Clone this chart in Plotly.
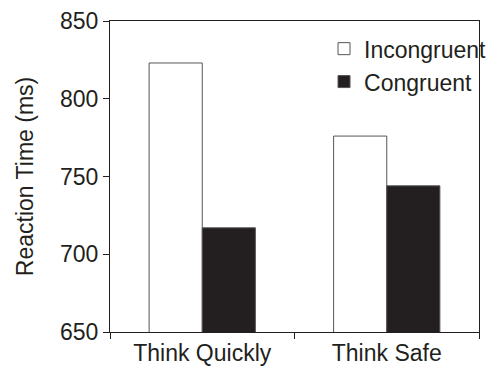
import plotly.graph_objects as go

categories = ["Think Quickly", "Think Safe"]
incongruent = [823, 776]
congruent = [717, 744]
y_ticks = [650, 700, 750, 800, 850]

FONT = "Liberation Sans, Arial, Helvetica, sans-serif"
DARK = "#231f20"

fig = go.Figure()
fig.add_trace(go.Bar(
    x=categories, y=incongruent, name="Incongruent",
    marker=dict(color="white", line=dict(color="#555555", width=1)),
))
fig.add_trace(go.Bar(
    x=categories, y=congruent, name="Congruent",
    marker=dict(color=DARK, line=dict(color="#555555", width=1)),
))

# page body adds an 8px margin, so size/margins are compensated
fig.update_layout(
    width=488, height=367,
    margin=dict(l=102, r=4, t=13, b=43),
    paper_bgcolor="white", plot_bgcolor="white",
    barmode="group", bargap=0.424, bargroupgap=0,
    font=dict(family=FONT, size=23, color=DARK),
    showlegend=True,
    legend=dict(
        x=0.58, y=0.98, xanchor="left", yanchor="top",
        bgcolor="rgba(0,0,0,0)", font=dict(size=23, color=DARK),
        itemwidth=30, traceorder="normal",
    ),
    xaxis=dict(
        type="category", tickson="boundaries", ticks="outside", ticklen=6,
        tickcolor=DARK, showline=True, linecolor=DARK, linewidth=1,
        mirror=True, showgrid=False, tickfont=dict(size=23, color=DARK),
        automargin=False, ticklabeloverflow="allow",
    ),
    yaxis=dict(
        range=[650, 850], tickvals=y_ticks, ticks="outside", ticklen=6,
        tickcolor=DARK, showline=True, linecolor=DARK, linewidth=1,
        mirror=True, showgrid=False, zeroline=False,
        tickfont=dict(size=23, color=DARK), automargin=False,
        ticklabeloverflow="allow",
        title=dict(text="Reaction Time (ms)", font=dict(size=23, color=DARK), standoff=19),
    ),
)

fig.write_html("out.html")
